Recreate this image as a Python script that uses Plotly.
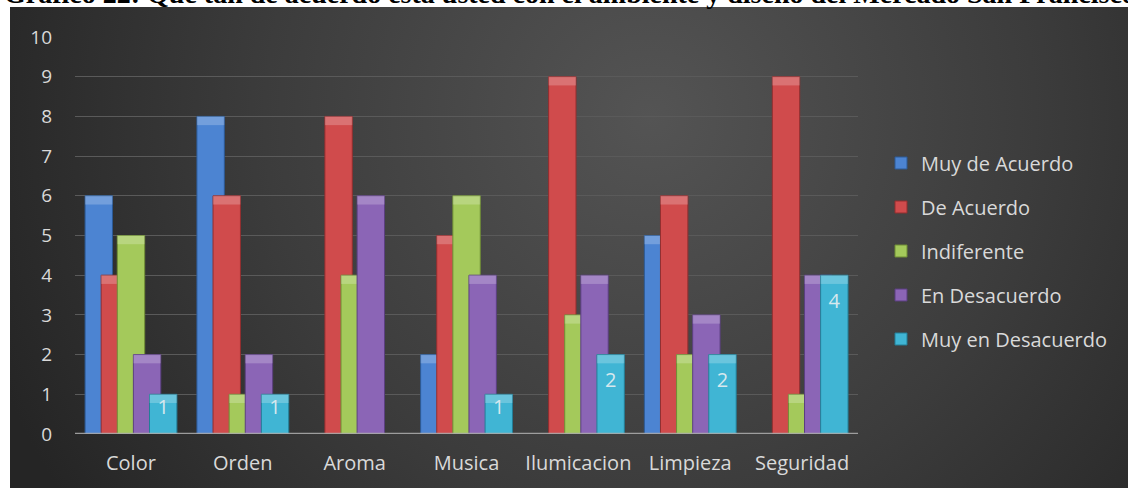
import base64
import plotly.graph_objects as go

# ---- data -------------------------------------------------------------
categories = ["Color", "Orden", "Aroma", "Musica", "Ilumicacion", "Limpieza", "Seguridad"]

muy_de_acuerdo = [6, 8, 0, 2, 0, 5, 0]
de_acuerdo = [4, 6, 8, 5, 9, 6, 9]
indiferente = [5, 1, 4, 6, 3, 2, 1]
en_desacuerdo = [2, 2, 6, 4, 4, 3, 4]
muy_en_desacuerdo = [1, 1, 0, 1, 2, 2, 4]

series_names = ["Muy de Acuerdo", "De Acuerdo", "Indiferente", "En Desacuerdo", "Muy en Desacuerdo"]
series_values = [muy_de_acuerdo, de_acuerdo, indiferente, en_desacuerdo, muy_en_desacuerdo]

title_text = ("Gráfico 22: Qué tan de acuerdo está usted con el ambiente "
              "y diseño del Mercado San Francisco")

# ---- styling ----------------------------------------------------------
W, H = 1128, 488
FONT = "Open Sans"
TEXT_COLOR = "#d9d9d9"
fills = ["#4c84d2", "#d04b4c", "#a4c95b", "#8b65b6", "#40b5d4"]
edges = ["#2c5a96", "#922e2f", "#6f8d35", "#5b3f80", "#237e97"]

BAR_W = 0.245      # bar width in category units
STEP = 0.144       # distance between neighbouring bars (they overlap)
FIRST = -0.41      # left edge of the first bar relative to the category

x_idx = list(range(len(categories)))


def px_x(p):
    return p / W


def px_y(p):
    return (H - p) / H


# dark radial backdrop of the chart panel
svg = (
    "<svg xmlns='http://www.w3.org/2000/svg' width='1118' height='481' "
    "viewBox='0 0 1118 481' preserveAspectRatio='none'>"
    "<defs><radialGradient id='g' gradientUnits='userSpaceOnUse' "
    "cx='640' cy='110' r='700'>"
    "<stop offset='0' stop-color='#545454'/>"
    "<stop offset='0.55' stop-color='#3c3c3c'/>"
    "<stop offset='1' stop-color='#252525'/>"
    "</radialGradient></defs>"
    "<rect width='1118' height='481' fill='url(#g)'/></svg>"
)
panel_src = "data:image/svg+xml;base64," + base64.b64encode(svg.encode()).decode()

fig = go.Figure()

for i, (name, vals) in enumerate(zip(series_names, series_values)):
    off = FIRST + i * STEP
    shown = [v if v > 0 else None for v in vals]
    fig.add_trace(go.Bar(
        x=x_idx, y=shown, name=name, legendgroup=name,
        offset=off, width=BAR_W,
        marker=dict(color=fills[i], line=dict(color=edges[i], width=1)),
    ))
    # lighter bevel band on the top of every bar
    cap = [min(0.22, v) if v > 0 else None for v in vals]
    base = [v - c if c else None for v, c in zip(vals, cap)]
    fig.add_trace(go.Bar(
        x=x_idx, y=cap, base=base, legendgroup=name, showlegend=False,
        offset=off, width=BAR_W, hoverinfo="skip",
        marker=dict(color="rgba(255,255,255,0.22)", line=dict(width=0)),
    ))

# value labels on the last series
last = series_values[-1]
label_x = [k + FIRST + 4 * STEP + BAR_W / 2 for k, v in zip(x_idx, last) if v > 0]
label_y = [v - min(0.7, 0.37 * v) for v in last if v > 0]
label_t = [str(v) for v in last if v > 0]
fig.add_trace(go.Scatter(
    x=label_x, y=label_y, text=label_t, mode="text", showlegend=False,
    hoverinfo="skip", textfont=dict(family=FONT, size=20, color="#d6e8ee"),
))

fig.update_layout(
    width=W, height=H, autosize=False,
    margin=dict(l=0, r=0, t=0, b=0, autoexpand=False),
    paper_bgcolor="white", plot_bgcolor="rgba(0,0,0,0)",
    barmode="overlay",
    font=dict(family=FONT, color=TEXT_COLOR, size=20),
    xaxis=dict(
        domain=[px_x(75), px_x(858)], range=[-0.5, 6.5],
        tickmode="array", tickvals=x_idx, ticktext=categories,
        showgrid=False, zeroline=False, showline=False, ticks="",
        tickfont=dict(family=FONT, size=20, color=TEXT_COLOR),
        ticklabelstandoff=15,
    ),
    yaxis=dict(
        domain=[px_y(434), px_y(37)], range=[0, 10], dtick=1,
        showgrid=True, gridcolor="#5a5a5a", gridwidth=1,
        zeroline=False, showline=False, ticks="",
        tickfont=dict(family=FONT, size=19, color=TEXT_COLOR),
        ticklabelstandoff=22,
    ),
    legend=dict(
        x=px_x(881), y=px_y(251), xanchor="left", yanchor="middle",
        tracegroupgap=15, bgcolor="rgba(0,0,0,0)",
        font=dict(family=FONT, size=20, color=TEXT_COLOR),
    ),
    images=[dict(
        source=panel_src, xref="paper", yref="paper",
        x=px_x(10), y=px_y(7), sizex=px_x(1118), sizey=481 / H,
        xanchor="left", yanchor="top", sizing="stretch", layer="below",
    )],
    shapes=[dict(
        type="line", xref="paper", yref="y",
        x0=px_x(75), x1=px_x(858), y0=0, y1=0,
        line=dict(color="rgba(175,175,175,0.85)", width=2.5), layer="above",
    )],
    annotations=[dict(
        text="<b>" + title_text + "</b>", xref="paper", yref="paper",
        x=px_x(2), y=px_y(11), xanchor="left", yanchor="bottom",
        showarrow=False, font=dict(family="Liberation Serif", size=28, color="black"),
    )],
)

fig.write_html("out.html")
